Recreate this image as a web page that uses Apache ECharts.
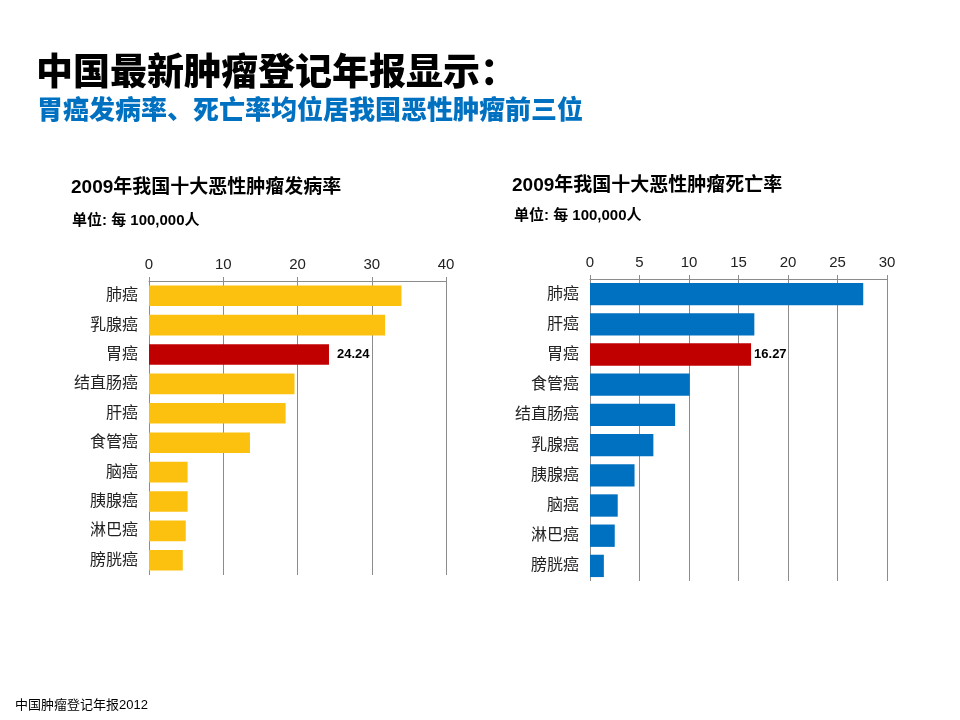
<!DOCTYPE html>
<html>
<head>
<meta charset="utf-8">
<script src="https://cdn.jsdelivr.net/npm/echarts@6/dist/echarts.min.js"></script>
<style>
  html, body { margin: 0; padding: 0; background: #fff; }
  #main { width: 960px; height: 720px; }
</style>
</head>
<body>
<div id="main"></div>
<script>
// 发病率 (每10万人)
var incidenceNames = ['肺癌', '乳腺癌', '胃癌', '结直肠癌', '肝癌', '食管癌', '脑癌', '胰腺癌', '淋巴癌', '膀胱癌'];
var incidenceValues = [34.0, 31.8, 24.24, 19.6, 18.4, 13.6, 5.2, 5.2, 4.95, 4.55];
var incidenceTicks = [0, 10, 20, 30, 40];

// 死亡率 (每10万人)
var mortalityNames = ['肺癌', '肝癌', '胃癌', '食管癌', '结直肠癌', '乳腺癌', '胰腺癌', '脑癌', '淋巴癌', '膀胱癌'];
var mortalityValues = [27.6, 16.6, 16.27, 10.07, 8.6, 6.4, 4.5, 2.8, 2.5, 1.4];
var mortalityTicks = [0, 5, 10, 15, 20, 25, 30];

var highlight = '胃癌';
var gridColor = '#8c8c8c';
var font = '"Liberation Sans", "Noto Sans CJK SC", sans-serif';

function barData(names, values, color) {
    var out = [];
    for (var i = 0; i < names.length; i++) {
        var hot = names[i] === highlight;
        out.push({
            value: values[i],
            itemStyle: { color: hot ? '#c00000' : color },
            label: { show: hot }
        });
    }
    return out;
}

function valueAxis(idx, ticks) {
    return {
        type: 'value', gridIndex: idx, position: 'top',
        min: ticks[0], max: ticks[ticks.length - 1],
        interval: ticks[1] - ticks[0],
        axisLine: { show: true, lineStyle: { color: gridColor, width: 1 } },
        axisTick: { show: true, length: 4, lineStyle: { color: gridColor } },
        axisLabel: { color: '#222', fontSize: 15, fontFamily: font, margin: 9 },
        splitLine: { show: true, lineStyle: { color: gridColor, width: 1 } }
    };
}

function catAxis(idx, names) {
    return {
        type: 'category', gridIndex: idx, data: names, inverse: true,
        axisLine: { show: false }, axisTick: { show: false },
        axisLabel: { color: '#222', fontSize: 16, fontFamily: font, margin: 11 }
    };
}

var myChart = echarts.init(document.getElementById('main'));
var option = {
    backgroundColor: '#fff',
    animation: false,
    textStyle: { fontFamily: font },
    title: [
        { text: '中国最新肿瘤登记年报显示：', left: 31, top: 51,
          textStyle: { fontSize: 37, fontWeight: 900, color: '#000', fontFamily: font } },
        { text: '胃癌发病率、死亡率均位居我国恶性肿瘤前三位', left: 32, top: 94,
          textStyle: { fontSize: 26, fontWeight: 900, color: '#0070c0', fontFamily: font } },
        { text: '2009年我国十大恶性肿瘤发病率', left: 66, top: 173,
          textStyle: { fontSize: 19, fontWeight: 'bold', color: '#000', fontFamily: font } },
        { text: '单位: 每 100,000人', left: 67, top: 208,
          textStyle: { fontSize: 15, fontWeight: 'bold', color: '#000', fontFamily: font } },
        { text: '2009年我国十大恶性肿瘤死亡率', left: 507, top: 171,
          textStyle: { fontSize: 19, fontWeight: 'bold', color: '#000', fontFamily: font } },
        { text: '单位: 每 100,000人', left: 509, top: 203,
          textStyle: { fontSize: 15, fontWeight: 'bold', color: '#000', fontFamily: font } },
        { text: '中国肿瘤登记年报2012', left: 10, top: 694,
          textStyle: { fontSize: 13, fontWeight: 'normal', color: '#000', fontFamily: font } }
    ],
    grid: [
        { left: 149, top: 281, width: 297, height: 294 },
        { left: 590, top: 279, width: 297, height: 302 }
    ],
    xAxis: [valueAxis(0, incidenceTicks), valueAxis(1, mortalityTicks)],
    yAxis: [catAxis(0, incidenceNames), catAxis(1, mortalityNames)],
    series: [
        {
            type: 'bar', xAxisIndex: 0, yAxisIndex: 0,
            barCategoryGap: '30%',
            label: { position: 'right', distance: 8, color: '#000', fontSize: 13,
                     fontWeight: 'bold', fontFamily: font },
            data: barData(incidenceNames, incidenceValues, '#fcc10f')
        },
        {
            type: 'bar', xAxisIndex: 1, yAxisIndex: 1,
            barCategoryGap: '26%',
            label: { position: 'right', distance: 3, color: '#000', fontSize: 13,
                     fontWeight: 'bold', fontFamily: font },
            data: barData(mortalityNames, mortalityValues, '#0070c0')
        }
    ]
};
myChart.setOption(option);
</script>
</body>
</html>
